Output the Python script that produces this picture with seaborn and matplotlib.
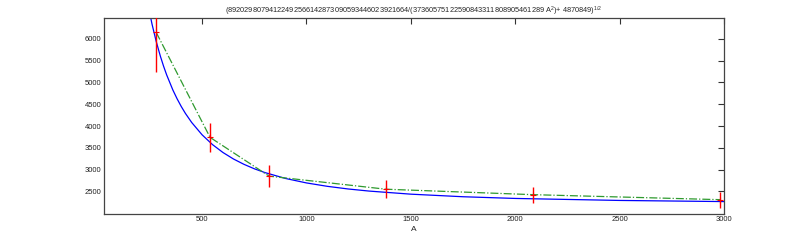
import matplotlib
matplotlib.use("Agg")
import matplotlib.pyplot as plt
import seaborn as sns
import numpy as np
import pandas as pd

# measured data points (A, value, error)
point_A = [280, 538, 821, 1380, 2083, 2981]
point_val = [6150, 3740, 2850, 2550, 2425, 2310]
point_err = [900, 340, 250, 210, 185, 185]

# fitted curve values
curve_A = [240, 260, 280, 300, 315, 330, 360, 380, 400, 420, 450, 500, 550,
           600, 650, 700, 750, 800, 900, 1000, 1100, 1200, 1300, 1500, 1750,
           2000, 2500, 3000]
curve_val = [6806, 6340, 5943, 5604, 5379, 5176, 4826, 4627, 4449, 4290,
             4082, 3798, 3573, 3392, 3244, 3122, 3019, 2933, 2796, 2694,
             2616, 2555, 2507, 2436, 2377, 2338, 2292, 2266]

x_ticks = [500, 1000, 1500, 2000, 2500, 3000]
y_ticks = [2500, 3000, 3500, 4000, 4500, 5000, 5500, 6000]

title = (r"(89202980794122492566142873090593446023921664/"
         r"(37360575122590843311808905461289 A$^{2}$)+ 4870849)$^{1/2}$")

sns.set_style("white")
plt.rcParams['font.family'] = ['Liberation Sans', 'DejaVu Sans']
plt.rcParams['mathtext.fontset'] = 'custom'
plt.rcParams['mathtext.rm'] = 'Liberation Sans'
plt.rcParams['mathtext.it'] = 'Liberation Sans'

fig = plt.figure(figsize=(8, 2.4), dpi=100)
ax = fig.add_axes([0.13, 0.11, 0.775, 0.815])

curve_df = pd.DataFrame({"A": curve_A, "v": curve_val})
pts_df = pd.DataFrame({"A": point_A, "v": point_val, "e": point_err})

sns.lineplot(data=curve_df, x="A", y="v", ax=ax, color="#0000ff", lw=0.9,
             sort=False)
sns.lineplot(data=pts_df, x="A", y="v", ax=ax, color="#2f9a2f", lw=0.9,
             linestyle="-.", sort=False)
ax.errorbar(pts_df["A"], pts_df["v"], yerr=pts_df["e"], fmt="+",
            color="#ff0000", ms=4, mew=0.8, elinewidth=1.0, capsize=0,
            zorder=5)

ax.set_xlim(30, 3000)
ax.set_ylim(1990, 6480)
ax.set_xticks(x_ticks)
ax.set_yticks(y_ticks)
ax.set_xlabel("A", fontsize=6, labelpad=2)
ax.set_ylabel("")
ax.set_title(title, fontsize=5.3, pad=3)

ax.tick_params(direction="in", length=4, width=0.8, labelsize=5.5,
               top=True, right=True, pad=2, colors="#333333",
               labelcolor="#222222")
for s in ax.spines.values():
    s.set_visible(True)
    s.set_color("#444444")
    s.set_linewidth(0.9)

fig.savefig("out.png", dpi=100, facecolor="white")
